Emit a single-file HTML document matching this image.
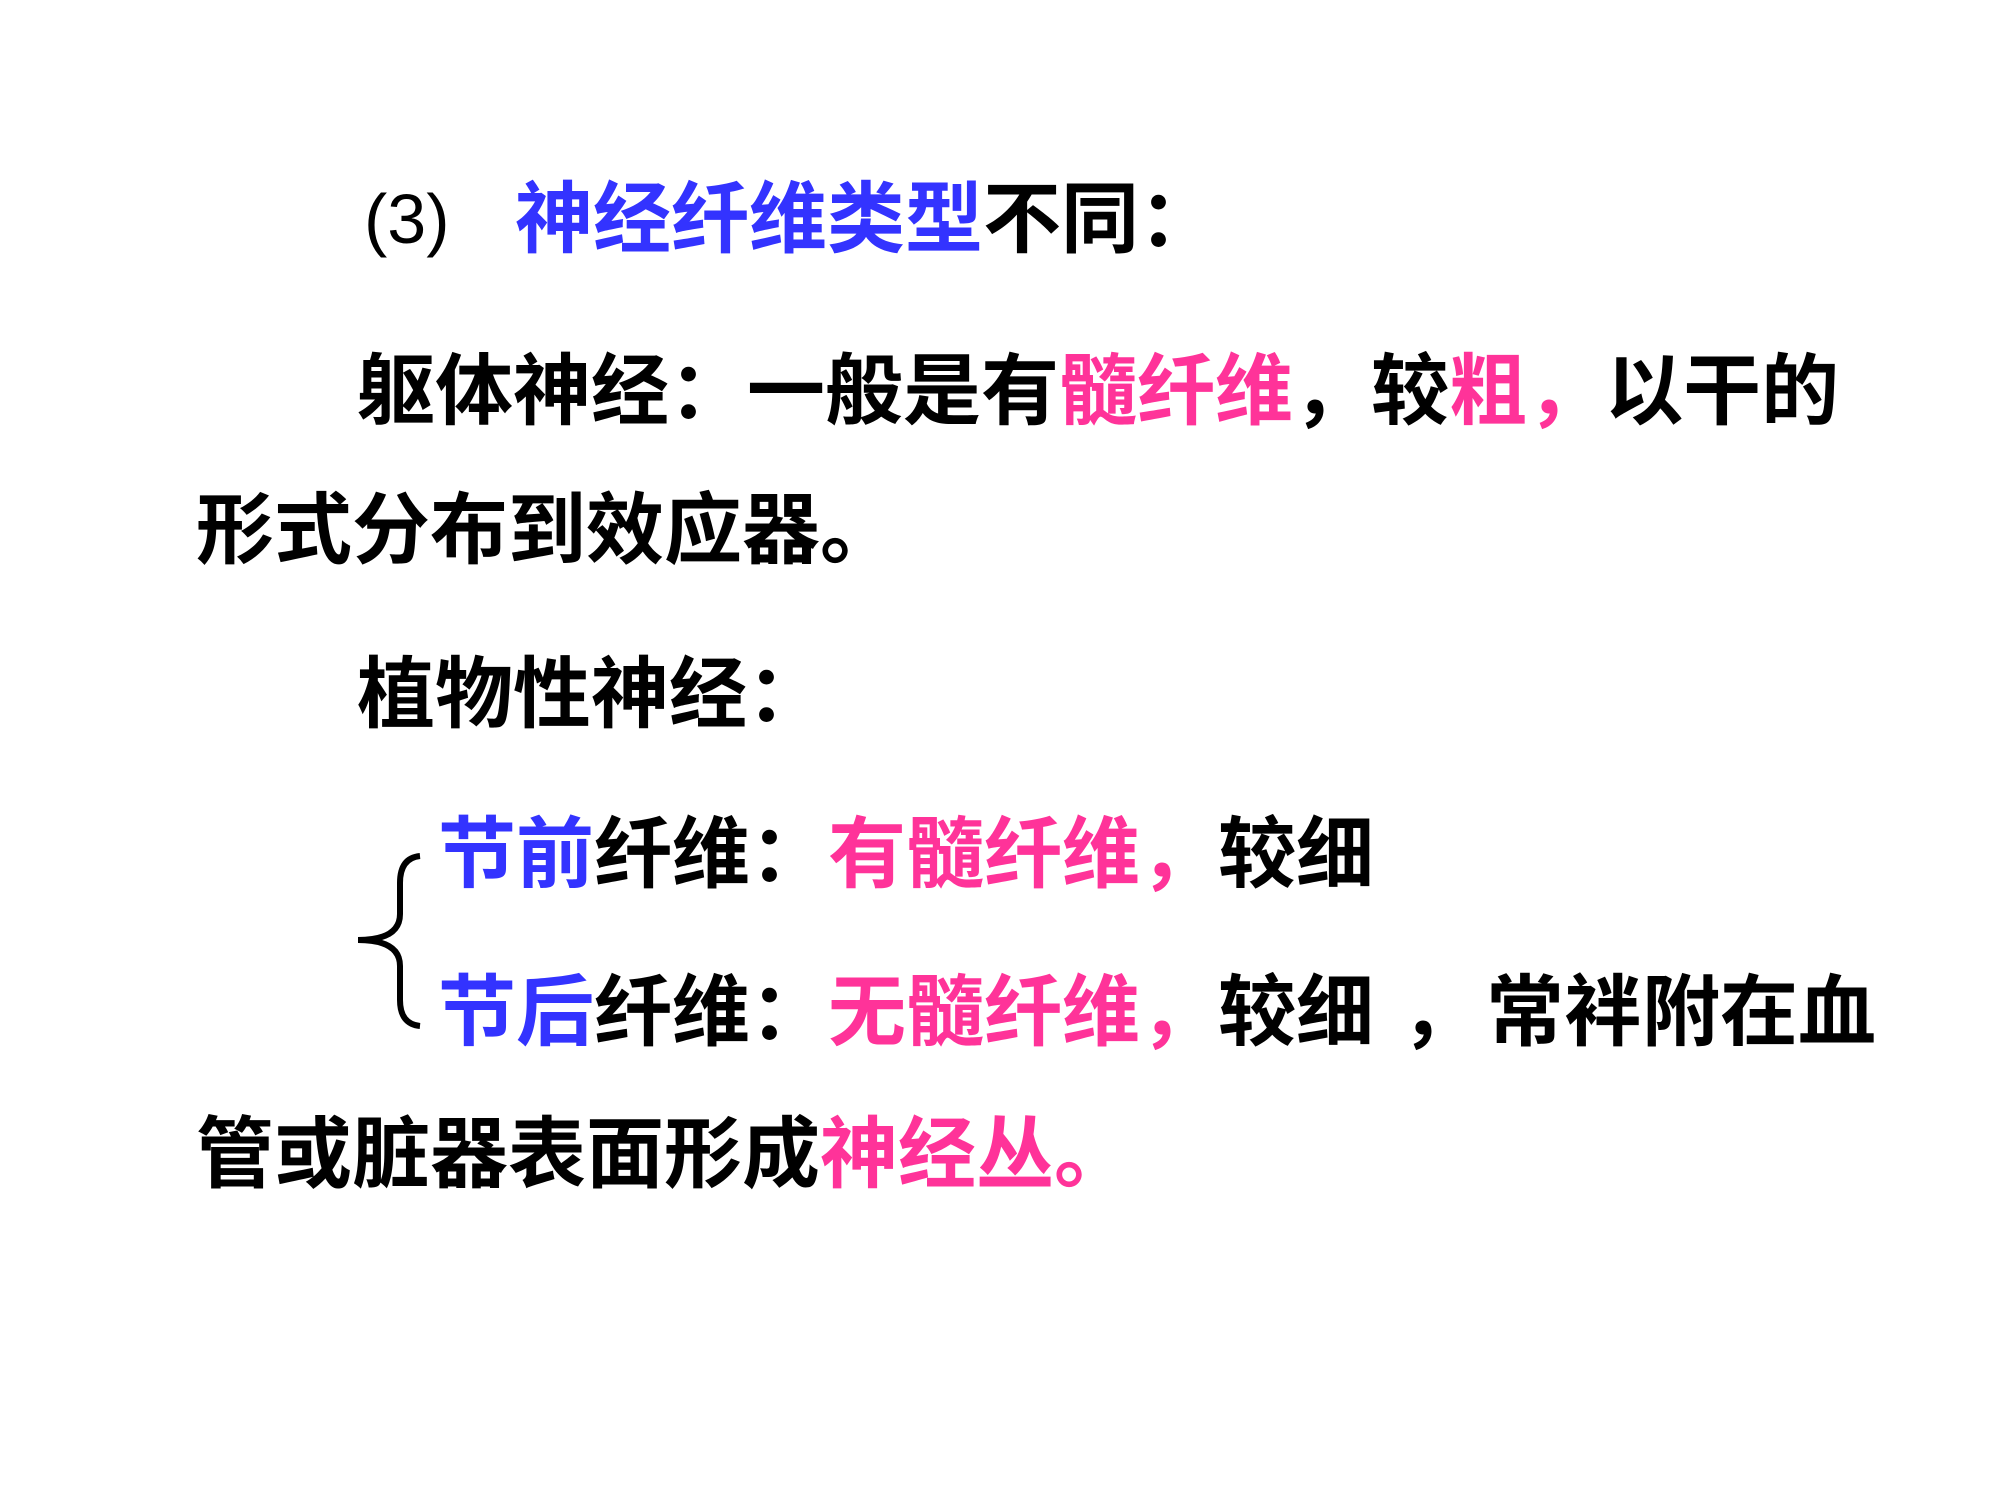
<!DOCTYPE html>
<html><head><meta charset="utf-8"><style>
html,body{margin:0;padding:0;background:#fff;}
body{width:2000px;height:1500px;position:relative;overflow:hidden;font-family:"Liberation Sans","Noto Sans CJK SC",sans-serif;}
.t{position:absolute;font-size:78px;line-height:78px;font-weight:bold;color:#000;white-space:nowrap;}
.b{color:#3333ff}.p{color:#ff3399}
</style></head><body>
<div class="t" style="left:364px;top:180px;font-weight:normal;font-size:70px">(3)</div>
<div class="t" style="left:515px;top:180px"><span class="b">神经纤维类型</span>不同：</div>
<div class="t" style="left:357px;top:352px">躯体神经：一般是有<span class="p">髓纤维</span>，较<span class="p">粗，</span>以干的</div>
<div class="t" style="left:196px;top:491px">形式分布到效应器。</div>
<div class="t" style="left:357px;top:655px">植物性神经：</div>
<div class="t" style="left:438px;top:815px"><span class="b">节前</span>纤维：<span class="p">有髓纤维，</span>较细</div>
<div class="t" style="left:438px;top:973px"><span class="b">节后</span>纤维：<span class="p">无髓纤维，</span>较细</div>
<div class="t" style="left:1401px;top:973px">，</div>
<div class="t" style="left:1486px;top:973px">常袢附在血</div>
<div class="t" style="left:196px;top:1115px">管或脏器表面形成<span class="p">神经丛。</span></div>
<svg style="position:absolute;left:0;top:0" width="2000" height="1500">
<path d="M420,856 Q400,858 400,883 L400,914 Q400,940 358,940 Q400,940 400,966 L400,1000 Q400,1024 420,1026" fill="none" stroke="#000" stroke-width="6"/>
</svg>
</body></html>
